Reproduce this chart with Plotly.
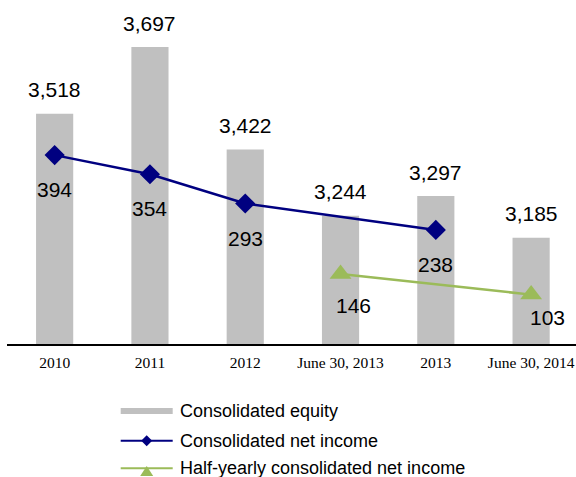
import plotly.graph_objects as go

# Reporting periods
categories = ["2010", "2011", "2012", "June 30, 2013", "2013", "June 30, 2014"]

# Consolidated equity (bars, left axis)
equity = [3518, 3697, 3422, 3244, 3297, 3185]

# Annual consolidated net income (no annual figure at the half-year dates)
net_income = [394, 354, 293, None, 238, None]

# Half-yearly consolidated net income
half_year_income = [None, None, None, 146, None, 103]

# Value-label offsets in pixels (dx, dy) for the income series
income_label_offsets = [(0, -34), (0, -34), (0, -35), None, (0, -35), None]
half_label_offsets = [None, None, None, (13, -31), None, (16, -23)]

W, H = 576, 477
ML, MR, MT, MB = 7, 0, 0, 133
PW, PH = W - ML - MR, H - MT - MB

GREY = "#C0C0C0"
NAVY = "#000080"
GREEN = "#9BBB59"
LABEL_FONT = dict(family="Liberation Sans, Arial, sans-serif", size=21, color="#000000")

fig = go.Figure()

fig.add_trace(go.Bar(
    x=categories, y=equity, name="Consolidated equity",
    marker=dict(color=GREY, line=dict(width=0)), width=0.39,
    showlegend=False, yaxis="y",
))

fig.add_trace(go.Scatter(
    x=categories, y=net_income, name="Consolidated net income",
    mode="lines+markers", connectgaps=True,
    line=dict(color=NAVY, width=2.5),
    marker=dict(symbol="diamond", size=15.5, color=NAVY),
    showlegend=False, yaxis="y2",
))

fig.add_trace(go.Scatter(
    x=categories, y=half_year_income, name="Half-yearly consolidated net income",
    mode="lines+markers", connectgaps=True,
    line=dict(color=GREEN, width=2.5),
    marker=dict(symbol="triangle-up", size=19, color=GREEN),
    showlegend=False, yaxis="y2",
))

annotations = []
# Equity labels above bars (x given as category index)
for i, v in enumerate(equity):
    annotations.append(dict(
        x=i, y=v, xref="x", yref="y", text=f"{v:,}", showarrow=False,
        yshift=24, yanchor="middle", font=LABEL_FONT,
    ))
# Income labels below markers
for series, offsets in ((net_income, income_label_offsets), (half_year_income, half_label_offsets)):
    for i, (v, off) in enumerate(zip(series, offsets)):
        if v is None:
            continue
        annotations.append(dict(
            x=i, y=v, xref="x", yref="y2", text=f"{v:,}", showarrow=False,
            xshift=off[0], yshift=off[1], yanchor="middle", font=LABEL_FONT,
        ))


def px_x(x):
    return (x - ML) / PW


def px_y(y):
    return (MT + PH - y) / PH


# Legend drawn below the axis
shapes = []
legend_rows = [
    ("Consolidated equity", 410.7),
    ("Consolidated net income", 440.7),
    ("Half-yearly consolidated net income", 468.3),
]
sx0, sx1, scx = 120.7, 172.7, 146.7
shapes.append(dict(type="rect", xref="paper", yref="paper",
                   x0=px_x(sx0), x1=px_x(sx1), y0=px_y(414), y1=px_y(408),
                   fillcolor=GREY, line=dict(width=0), layer="above"))
yl = legend_rows[1][1]
shapes.append(dict(type="line", xref="paper", yref="paper",
                   x0=px_x(sx0), x1=px_x(sx1), y0=px_y(yl), y1=px_y(yl),
                   line=dict(color=NAVY, width=2)))
shapes.append(dict(type="path", xref="paper", yref="paper",
                   path=(f"M {px_x(scx-5.5)},{px_y(yl)} L {px_x(scx)},{px_y(yl-5.5)} "
                         f"L {px_x(scx+5.5)},{px_y(yl)} L {px_x(scx)},{px_y(yl+5.5)} Z"),
                   fillcolor=NAVY, line=dict(width=0)))
yl = 468.3
shapes.append(dict(type="line", xref="paper", yref="paper",
                   x0=px_x(sx0), x1=px_x(sx1), y0=px_y(yl), y1=px_y(yl),
                   line=dict(color=GREEN, width=2)))
shapes.append(dict(type="path", xref="paper", yref="paper",
                   path=(f"M {px_x(scx-6.5)},{px_y(476)} L {px_x(scx)},{px_y(466)} "
                         f"L {px_x(scx+6.5)},{px_y(476)} Z"),
                   fillcolor=GREEN, line=dict(width=0)))
for text, y in legend_rows:
    annotations.append(dict(
        x=px_x(178), y=px_y(y), xref="paper", yref="paper", text=text,
        showarrow=False, xanchor="left", yanchor="middle",
        font=dict(family="Liberation Sans, Arial, sans-serif", size=18, color="#000000"),
    ))

fig.update_layout(
    width=W, height=H, margin=dict(l=ML, r=MR, t=MT, b=MB),
    paper_bgcolor="white", plot_bgcolor="white",
    xaxis=dict(
        type="category", range=[-0.5, 5.471],
        showline=True, linecolor="#000000", linewidth=1.5,
        showgrid=False, zeroline=False, ticks="",
        ticklabelstandoff=4,
        tickfont=dict(family="Liberation Serif, Times New Roman, serif", size=15.5, color="#000000"),
    ),
    yaxis=dict(range=[2900, 2900 + PH / 0.3725], visible=False),
    yaxis2=dict(range=[0, PH / 0.4794], overlaying="y", visible=False),
    annotations=annotations,
    shapes=shapes,
    showlegend=False,
)

fig.write_html("out.html")
